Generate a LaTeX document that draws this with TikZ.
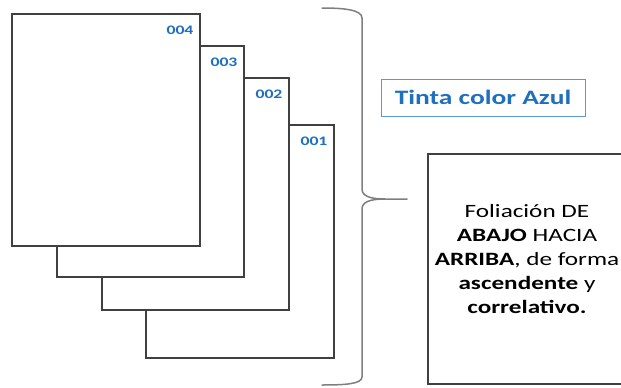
\documentclass[tikz,border=0pt]{standalone}
\usepackage{fontspec}
\usepackage{graphicx}
\setmainfont{Carlito}
\definecolor{pageline}{HTML}{404040}
\definecolor{inkblue}{HTML}{1F6FBF}
\definecolor{framblue}{HTML}{5B9BD5}
\definecolor{bracegray}{HTML}{7F7F7F}
\newcommand{\hstretch}[2][1.4]{\scalebox{#1}[1]{#2}}
\begin{document}
\begin{tikzpicture}[x=1pt,y=-1pt,
  page/.style={draw=pageline, line width=1.1pt, fill=white},
  folio/.style={font=\fontsize{13}{14}\selectfont\bfseries, text=inkblue, inner sep=0pt},
  descbox/.style={draw=pageline, line width=1.1pt, fill=white},
  tintabox/.style={draw=framblue, line width=0.8pt, inner sep=0pt, text=inkblue,
    font=\fontsize{20.5}{22}\selectfont\bfseries},
  bracepath/.style={draw=bracegray, line width=1.5pt, line cap=round, line join=round}]
\useasboundingbox (0,0) rectangle (621,388);
\clip (0,0) rectangle (621,388);

% pages, back to front
\draw[page] (146,125) rectangle (334,358);
\node[folio] (f1) at (314,141.5) {\hstretch[1.36]{001}};
\draw[page] (102,78) rectangle (289,310);
\node[folio] (f2) at (269,94.5) {\hstretch[1.36]{002}};
\draw[page] (57,46) rectangle (244,277);
\node[folio] (f3) at (224,62.5) {\hstretch[1.36]{003}};
\draw[page] (12,14) rectangle (200,246);
\node[folio] (f4) at (180,30.5) {\hstretch[1.36]{004}};

% curly brace
\draw[bracepath] (322,8) .. controls (345,8) and (362,10) .. (362,18)
  -- (362,189) .. controls (362,196) and (370,199) .. (385,199) -- (407,199)
  -- (385,199) .. controls (370,199) and (362,202) .. (362,209)
  -- (362,377) .. controls (362,384) and (345,385) .. (322,385);

% ink colour label
\node[tintabox, minimum width=204pt, minimum height=37pt] (tinta) at (483,97.5)
  {\hstretch[1.34]{Tinta color Azul}};

% description box
\node[descbox, minimum width=198pt, minimum height=230pt] (desc) at (527,269) {};
\node[inner sep=0pt] (desctext) at (527,261) {\fontsize{18.8}{24}\selectfont\hstretch[1.34]{%
  \begin{tabular}{@{}c@{}}
  Foliación DE\\
  \textbf{ABAJO} HACIA\\
  \textbf{ARRIBA}, de forma\\
  \textbf{ascendente} y\\
  \textbf{correlativo.}
  \end{tabular}}};
\end{tikzpicture}
\end{document}
